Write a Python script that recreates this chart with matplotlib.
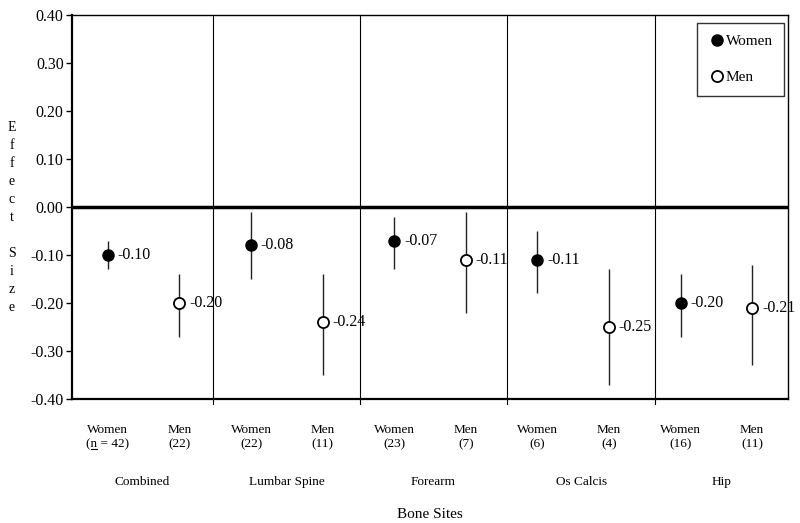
import numpy as np
import matplotlib.pyplot as plt
from matplotlib.lines import Line2D

plt.rcParams['font.family'] = ['Liberation Serif', 'DejaVu Serif']

# effect sizes by bone site, women / men alternating
sites = ['Combined', 'Lumbar Spine', 'Forearm', 'Os Calcis', 'Hip']
sex = ['Women', 'Men'] * 5
n_labels = ['(n = 42)', '(22)', '(22)', '(11)', '(23)', '(7)', '(6)', '(4)', '(16)', '(11)']
effect = [-0.10, -0.20, -0.08, -0.24, -0.07, -0.11, -0.11, -0.25, -0.20, -0.21]
ci_hi = [-0.07, -0.14, -0.01, -0.14, -0.02, -0.01, -0.05, -0.13, -0.14, -0.12]
ci_lo = [-0.13, -0.27, -0.15, -0.35, -0.13, -0.22, -0.18, -0.37, -0.27, -0.33]

x = np.arange(len(effect))
effect = np.array(effect)
ci_hi = np.array(ci_hi)
ci_lo = np.array(ci_lo)

fig = plt.figure(figsize=(8, 5.23), dpi=100)
ax = fig.add_axes([0.09, 0.237, 0.895, 0.734])

# error bars
ax.vlines(x, ci_lo, ci_hi, color='#222222', lw=1, zorder=2)

women = np.array([s == 'Women' for s in sex])
ax.plot(x[women], effect[women], 'o', ms=8, color='black', label='Women', zorder=3)
ax.plot(x[~women], effect[~women], 'o', ms=8, mfc='white', mec='black', mew=1.3,
        label='Men', zorder=3)

for xi, v in zip(x, effect):
    ax.annotate('%.2f' % v, (xi, v), xytext=(7, 0), textcoords='offset points',
                va='center', ha='left', fontsize=11.5)

ax.axhline(0, color='black', lw=2.5, zorder=1)

# panel separators (not exactly midway between points in the original)
seps = [1.47, 3.52, 5.58, 7.64]
for b in seps:
    ax.axvline(b, ymin=-0.012, ymax=1, color='black', lw=0.8, clip_on=False)

ax.set_xlim(-0.5, 9.5)
ax.set_ylim(-0.4, 0.4)
yt = np.round(np.arange(-0.4, 0.41, 0.1), 2) + 0.0
ax.set_yticks(yt)
ax.set_yticklabels(['%.2f' % t for t in yt], fontsize=11.5)
ax.tick_params(axis='y', direction='out', length=4, width=1, pad=2)
ax.set_xticks([])
for sp in ['left', 'bottom']:
    ax.spines[sp].set_linewidth(1.6)
for sp in ['top', 'right']:
    ax.spines[sp].set_linewidth(1.0)

trans = ax.get_xaxis_transform()
ntexts = []
for xi, s, n in zip(x, sex, n_labels):
    t = ax.text(xi, -0.065, s + '\n' + n, transform=trans, ha='center', va='top',
                fontsize=9.5, linespacing=1.3)
    ntexts.append(t)
edges = [-0.5] + seps + [9.5]
for i, site in enumerate(sites):
    ax.text((edges[i] + edges[i + 1]) / 2, -0.215, site, transform=trans,
            ha='center', va='center', fontsize=9.5)
ax.text(0.5, -0.3, 'Bone Sites', transform=ax.transAxes, ha='center', va='center',
        fontsize=11)

fig.text(0.015, 0.585, '\n'.join('Effect Size').replace('\n \n', '\n\n'),
         ha='center', va='center', fontsize=10, linespacing=1.5)

leg = ax.legend(loc='upper right', bbox_to_anchor=(0.995, 0.979), fontsize=11,
                frameon=True, fancybox=False, handletextpad=0.05, handlelength=1.1,
                borderpad=0.75, labelspacing=1.45, borderaxespad=0)
leg.get_frame().set_edgecolor('black')
leg.get_frame().set_linewidth(1.0)

# underline the "n" in the first sample-size label
fig.canvas.draw()
r = fig.canvas.get_renderer()
t0 = ntexts[0]
prop = t0.get_fontproperties()
w_line = r.get_text_width_height_descent(n_labels[0], prop, ismath=False)[0]
w_a = r.get_text_width_height_descent('(', prop, ismath=False)[0]
w_b = r.get_text_width_height_descent('(n', prop, ismath=False)[0]
bb = t0.get_window_extent(r)
xc = (bb.x0 + bb.x1) / 2
x_left = xc - w_line / 2
yb = bb.y0 + 2
inv = fig.transFigure.inverted()
p0 = inv.transform((x_left + w_a, yb))
p1 = inv.transform((x_left + w_b, yb))
fig.add_artist(Line2D([p0[0], p1[0]], [p0[1], p1[1]], color='black', lw=0.8,
                      transform=fig.transFigure))

fig.savefig('out.png', dpi=100)
